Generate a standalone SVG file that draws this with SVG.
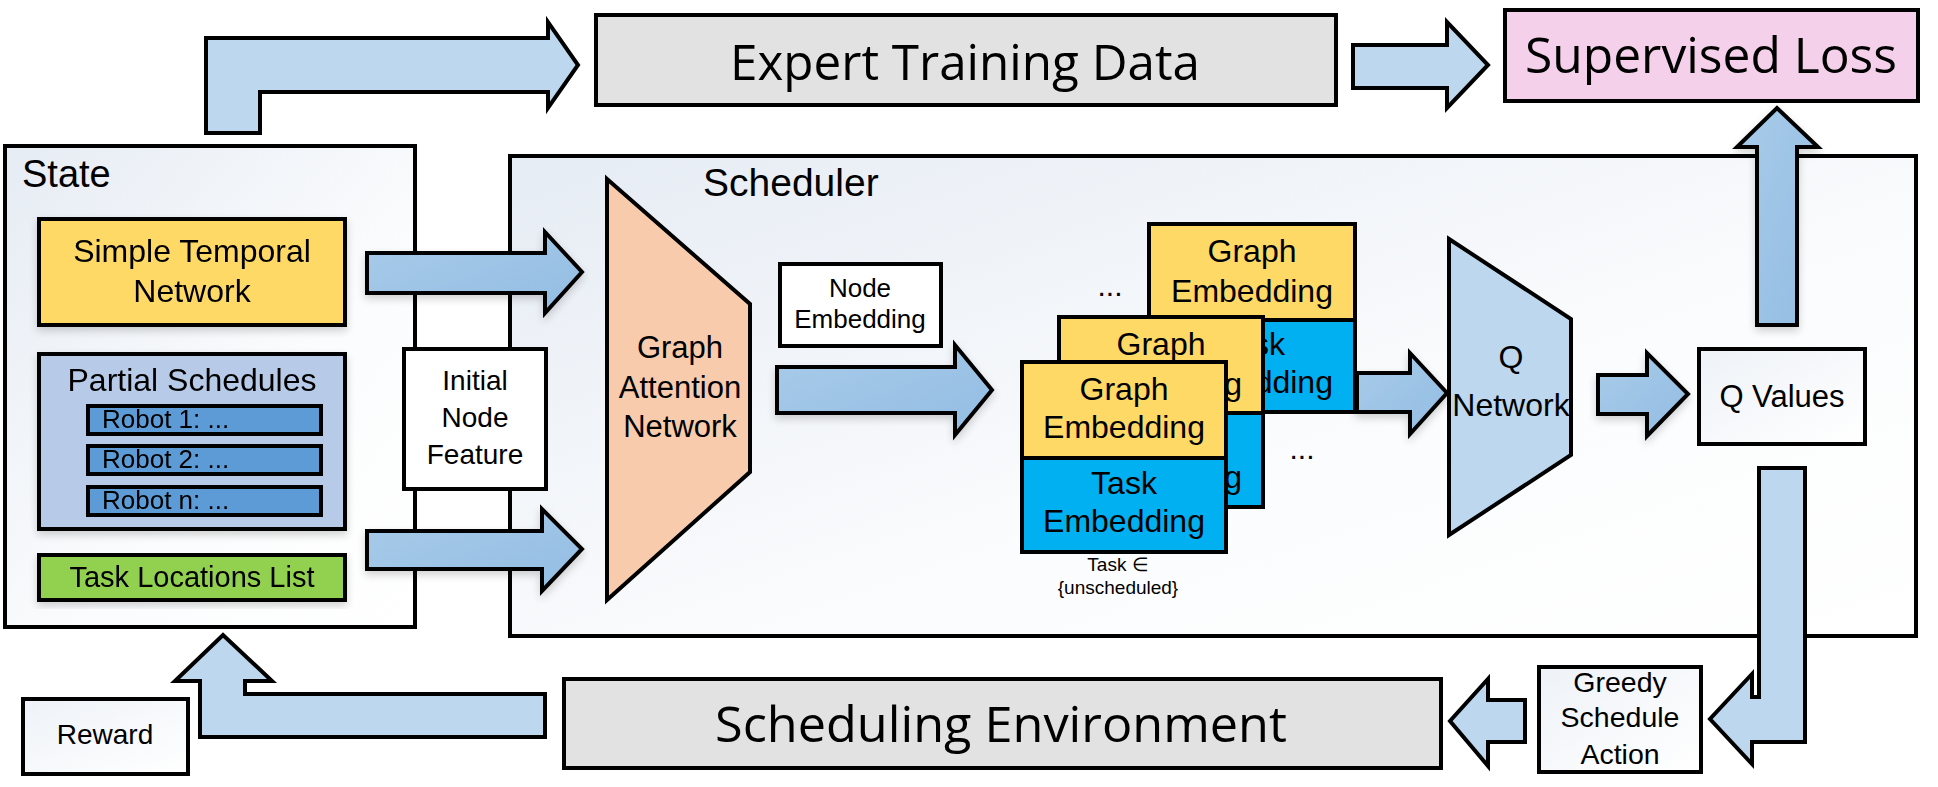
<svg xmlns="http://www.w3.org/2000/svg" width="1938" height="787" viewBox="0 0 1938 787">
<defs>
<linearGradient id="gCont" x1="0" y1="0" x2="1" y2="1">
<stop offset="0" stop-color="#e6ecf4"/>
<stop offset="0.6" stop-color="#fbfcfd"/>
<stop offset="1" stop-color="#ffffff"/>
</linearGradient>
<linearGradient id="gWhite" x1="0" y1="0" x2="1" y2="1">
<stop offset="0" stop-color="#eef2f7"/>
<stop offset="1" stop-color="#ffffff"/>
</linearGradient>
<linearGradient id="gArrow" x1="0" y1="0" x2="1" y2="1">
<stop offset="0" stop-color="#a9cbe9"/>
<stop offset="1" stop-color="#92bde3"/>
</linearGradient>
<filter id="sh" x="-10%" y="-10%" width="120%" height="130%">
<feGaussianBlur in="SourceAlpha" stdDeviation="4"/>
<feOffset dx="0" dy="4" result="b"/>
<feComponentTransfer><feFuncA type="linear" slope="0.18"/></feComponentTransfer>
<feMerge><feMergeNode/><feMergeNode in="SourceGraphic"/></feMerge>
</filter>
</defs>
<style>
.box{stroke:#000;stroke-width:4}
.cont{fill:url(#gCont);stroke:#000;stroke-width:4}
.arrL{fill:#bdd7ee;stroke:#000;stroke-width:4;stroke-linejoin:miter}
.arrM{fill:url(#gArrow);stroke:#000;stroke-width:4;stroke-linejoin:miter}
.t{font-family:"Liberation Sans",Arial,sans-serif;fill:#000;text-anchor:middle}
.tl{font-family:"Liberation Sans",Arial,sans-serif;fill:#000}
.big{font-family:"Open Sans","Noto Sans",sans-serif;font-size:50px;fill:#000}
</style>
<rect width="1938" height="787" fill="#ffffff"/>

<g id="state">
<rect class="cont" x="5" y="146" width="410" height="481"/>
<text class="tl" x="22" y="187" font-size="38">State</text>
</g>
<g id="scheduler">
<rect class="cont" x="510" y="156" width="1406" height="480"/>
<text class="tl" x="703" y="196" font-size="39">Scheduler</text>
</g>

<g id="connectors">
<path class="arrL" d="M206,133 L206,38 L548,38 L548,22 L578,65 L548,108 L548,92 L260,92 L260,133 Z"/>
<path class="arrL" d="M1353,45 L1447,45 L1447,22 L1488,65 L1447,108 L1447,88 L1353,88 Z"/>
<path class="arrM" filter="url(#sh)" d="M367,253 L545,253 L545,232 L582,272 L545,313 L545,293 L367,293 Z"/>
<path class="arrM" filter="url(#sh)" d="M367,531 L542,531 L542,509 L582,549 L542,591 L542,569 L367,569 Z"/>
<path class="arrM" filter="url(#sh)" d="M777,367 L955,367 L955,345 L992,390 L955,435 L955,413 L777,413 Z"/>
<path class="arrM" filter="url(#sh)" d="M1357,373 L1410,373 L1410,353 L1447,393 L1410,434 L1410,412 L1357,412 Z"/>
<path class="arrM" filter="url(#sh)" d="M1598,375 L1647,375 L1647,353 L1688,394 L1647,436 L1647,414 L1598,414 Z"/>
<path class="arrM" filter="url(#sh)" d="M1757,325 L1757,147 L1737,147 L1777,108 L1818,147 L1797,147 L1797,325 Z"/>
<path class="arrL" d="M1759,468 L1805,468 L1805,742 L1752,742 L1752,764 L1710,719 L1752,674 L1752,697 L1759,697 Z"/>
<path class="arrL" d="M1525,700 L1488,700 L1488,679 L1450,721 L1488,766 L1488,742 L1525,742 Z"/>
<path class="arrL" d="M545,694 L245,694 L245,681 L272,681 L223,635 L175,681 L200,681 L200,737 L545,737 Z"/>
</g>

<g id="expert-data">
<rect class="box" x="596" y="15" width="740" height="90" fill="#e2e2e2"/>
<text class="big" x="730" y="80" textLength="470" lengthAdjust="spacingAndGlyphs">Expert Training Data</text>
</g>
<g id="supervised-loss">
<rect class="box" x="1505" y="10" width="413" height="91" fill="#f5d0ea"/>
<text class="big" x="1525" y="73" font-size="51" textLength="372" lengthAdjust="spacingAndGlyphs">Supervised Loss</text>
</g>
<g id="stn" filter="url(#sh)">
<rect class="box" x="39" y="219" width="306" height="106" fill="#ffd966"/>
<text class="t" x="192" y="262" font-size="32">Simple Temporal</text>
<text class="t" x="192" y="302" font-size="32">Network</text>
</g>
<g id="partial-schedules" filter="url(#sh)">
<rect class="box" x="39" y="354" width="306" height="175" fill="#b7cbe8"/>
<text class="t" x="192" y="391" font-size="32">Partial Schedules</text>
<rect class="box" x="88" y="406" width="233" height="28" fill="#5b9bd5"/>
<text class="tl" x="102" y="428" font-size="26">Robot 1: ...</text>
<rect class="box" x="88" y="446" width="233" height="28" fill="#5b9bd5"/>
<text class="tl" x="102" y="468" font-size="26">Robot 2: ...</text>
<rect class="box" x="88" y="487" width="233" height="28" fill="#5b9bd5"/>
<text class="tl" x="102" y="509" font-size="26">Robot n: ...</text>
</g>
<g id="task-locations" filter="url(#sh)">
<rect class="box" x="39" y="555" width="306" height="45" fill="#92d050"/>
<text class="t" x="192" y="587" font-size="29">Task Locations List</text>
</g>
<g id="initial-node-feature">
<rect class="box" x="404" y="349" width="142" height="140" fill="#ffffff"/>
<text class="t" x="475" y="390" font-size="28">Initial</text>
<text class="t" x="475" y="427" font-size="28">Node</text>
<text class="t" x="475" y="464" font-size="28">Feature</text>
</g>
<g id="gat">
<polygon class="box" points="607,179 750,304 750,472 607,600" fill="#f8cbad"/>
<text class="t" x="680" y="358" font-size="31">Graph</text>
<text class="t" x="680" y="398" font-size="31">Attention</text>
<text class="t" x="680" y="437" font-size="31">Network</text>
</g>
<g id="node-embedding">
<rect class="box" x="780" y="264" width="161" height="82" fill="#ffffff"/>
<text class="t" x="860" y="297" font-size="26">Node</text>
<text class="t" x="860" y="328" font-size="26">Embedding</text>
</g>
<g id="embedding-stack-back">
<rect class="box" x="1149" y="224" width="206" height="96" fill="#ffd966"/>
<text class="t" x="1252" y="262" font-size="32">Graph</text>
<text class="t" x="1252" y="302" font-size="32">Embedding</text>
<rect class="box" x="1149" y="320" width="206" height="92" fill="#00b0f0"/>
<text class="t" x="1252" y="355" font-size="32">Task</text>
<text class="t" x="1252" y="393" font-size="32">Embedding</text>
</g>
<g id="embedding-stack-middle">
<rect class="box" x="1059" y="317" width="204" height="96" fill="#ffd966"/>
<text class="t" x="1161" y="355" font-size="32">Graph</text>
<text class="t" x="1161" y="395" font-size="32">Embedding</text>
<rect class="box" x="1059" y="413" width="204" height="94" fill="#00b0f0"/>
<text class="t" x="1161" y="450" font-size="32">Task</text>
<text class="t" x="1161" y="488" font-size="32">Embedding</text>
</g>
<g id="embedding-stack-front">
<rect class="box" x="1022" y="362" width="204" height="96" fill="#ffd966"/>
<text class="t" x="1124" y="400" font-size="32">Graph</text>
<text class="t" x="1124" y="438" font-size="32">Embedding</text>
<rect class="box" x="1022" y="458" width="204" height="94" fill="#00b0f0"/>
<text class="t" x="1124" y="494" font-size="32">Task</text>
<text class="t" x="1124" y="532" font-size="32">Embedding</text>
<text class="t" x="1118" y="571" font-size="19">Task ∈</text>
<text class="t" x="1118" y="594" font-size="19">{unscheduled}</text>
</g>
<g id="ellipses">
<text class="t" x="1110" y="296" font-size="30">...</text>
<text class="t" x="1302" y="459" font-size="30">...</text>
</g>
<g id="q-network">
<polygon class="box" points="1449,239 1571,319 1571,455 1449,535" fill="#bdd7ee"/>
<text class="t" x="1511" y="368" font-size="32">Q</text>
<text class="t" x="1511" y="416" font-size="32">Network</text>
</g>
<g id="q-values">
<rect class="box" x="1699" y="349" width="166" height="95" fill="url(#gWhite)"/>
<text class="t" x="1782" y="407" font-size="31">Q Values</text>
</g>
<g id="greedy-action">
<rect class="box" x="1539" y="667" width="162" height="105" fill="url(#gWhite)"/>
<text class="t" x="1620" y="692" font-size="28.5">Greedy</text>
<text class="t" x="1620" y="727" font-size="28.5">Schedule</text>
<text class="t" x="1620" y="764" font-size="28.5">Action</text>
</g>
<g id="scheduling-environment">
<rect class="box" x="564" y="679" width="877" height="89" fill="#e2e2e2"/>
<text class="big" x="715" y="742" font-size="51" textLength="572" lengthAdjust="spacingAndGlyphs">Scheduling Environment</text>
</g>
<g id="reward">
<rect class="box" x="23" y="699" width="165" height="75" fill="url(#gWhite)"/>
<text class="t" x="105" y="744" font-size="28">Reward</text>
</g>
</svg>
